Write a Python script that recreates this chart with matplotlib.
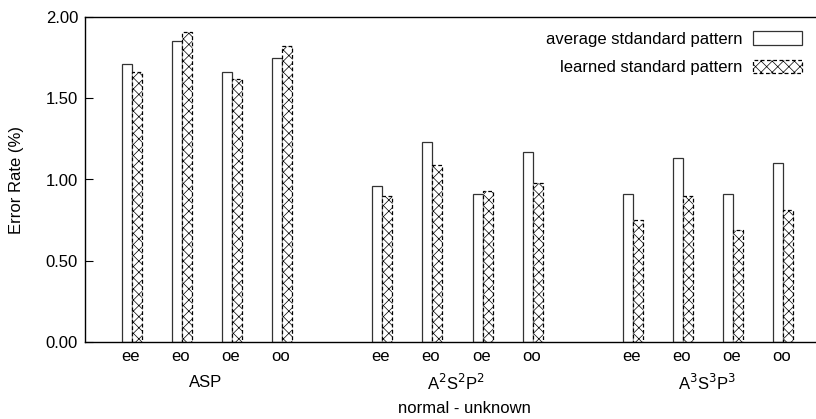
import matplotlib
matplotlib.use("Agg")
import matplotlib.pyplot as plt
import matplotlib.transforms as mtransforms
import numpy as np

plt.rcParams['font.family'] = ['Liberation Sans', 'DejaVu Sans']
plt.rcParams['hatch.linewidth'] = 0.5

pairs = ['ee', 'eo', 'oe', 'oo']
groups = ['ASP', r'A$^2$S$^2$P$^2$', r'A$^3$S$^3$P$^3$']
average = [1.71, 1.85, 1.66, 1.75,
           0.96, 1.23, 0.91, 1.17,
           0.91, 1.13, 0.91, 1.10]
learned = [1.66, 1.91, 1.62, 1.82,
           0.90, 1.09, 0.93, 0.98,
           0.75, 0.90, 0.69, 0.81]

# 4 slots per group, 1 empty slot between groups
pos = np.array([g * 5 + i for g in range(3) for i in range(4)], dtype=float)
w = 0.2
fs = 12

fig = plt.figure(figsize=(8.16, 4.19), dpi=100)
ax = fig.add_axes([85 / 816, 77 / 419, 731 / 816, 325 / 419])

ax.bar(pos - w / 2 + 0.03, average, w, color='white', edgecolor='#333333',
       linewidth=0.9, label='average stdandard pattern')
ax.bar(pos + w / 2 + 0.03, learned, w, color='white', edgecolor='black',
       linewidth=0.9, linestyle=(0, (3, 2)), hatch='xxx',
       label='learned standard pattern')

ax.set_xlim(-0.9, 13.68)
ax.set_ylim(0, 2.0)
ax.set_yticks([0, 0.5, 1.0, 1.5, 2.0])
ax.set_yticklabels(['%.2f' % v for v in [0, 0.5, 1.0, 1.5, 2.0]], fontsize=fs)
ax.set_xticks(pos)
ax.set_xticklabels(pairs * 3, fontsize=fs)
ax.tick_params(axis='x', length=0, pad=5)
ax.tick_params(axis='y', direction='in', length=6, pad=5)

ax.spines['right'].set_visible(False)
for s in ['left', 'top', 'bottom']:
    ax.spines[s].set_linewidth(1.0)

trans = mtransforms.blended_transform_factory(ax.transData, ax.transAxes)
for g, name in enumerate(groups):
    ax.text(g * 5 + 1.5, -0.125, name, ha='center', va='center', fontsize=fs,
            transform=trans)

fig.text(464 / 816, 1 - 408 / 419, 'normal - unknown', ha='center',
         va='center', fontsize=fs)
fig.text(17 / 816, 1 - 180 / 419, 'Error Rate (%)', ha='center',
         va='center', rotation=90, fontsize=fs)

ax.legend(loc='upper right', bbox_to_anchor=(0.981, 0.956), frameon=False,
          markerfirst=False, fontsize=fs, handlelength=2.95,
          handleheight=0.85, labelspacing=0.8, handletextpad=0.65,
          borderpad=0, borderaxespad=0)

fig.savefig('out.png', dpi=100)
